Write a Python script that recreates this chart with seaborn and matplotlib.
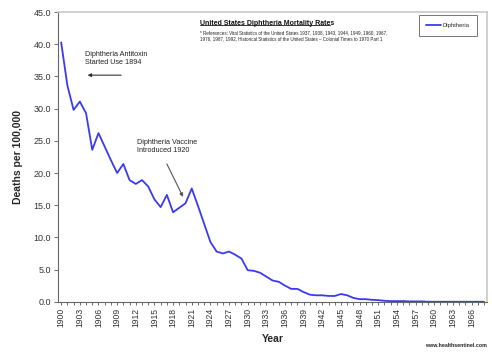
import matplotlib
matplotlib.use("Agg")
import numpy as np
import pandas as pd
import matplotlib.pyplot as plt
import seaborn as sns

years = list(range(1900, 1969))
deaths = [40.3, 33.6, 29.8, 31.1, 29.3, 23.6, 26.2, 24.1, 22.0, 20.0,
          21.4, 18.9, 18.3, 18.9, 17.9, 15.9, 14.7, 16.6, 13.9, 14.6,
          15.3, 17.6, 14.9, 12.1, 9.3, 7.8, 7.5, 7.8, 7.3, 6.7,
          4.9, 4.8, 4.5, 3.9, 3.3, 3.1, 2.5, 2.0, 2.0, 1.5,
          1.1, 1.0, 1.0, 0.9, 0.9, 1.2, 1.0, 0.6, 0.4, 0.4,
          0.3, 0.25, 0.15, 0.1, 0.1, 0.1, 0.05, 0.05, 0.05, 0.0,
          0.0, 0.0, 0.0, 0.0, 0.0, 0.0, 0.0, 0.0, 0.0]
year_labels = years[::3]
y_ticks = [0, 5, 10, 15, 20, 25, 30, 35, 40, 45]

df = pd.DataFrame({"Year": years, "Diphtheria": deaths})

sns.set_style("white")
plt.rcParams["font.family"] = ["Liberation Sans", "DejaVu Sans"]

fig = plt.figure(figsize=(4.92, 3.55), dpi=100)
ax = fig.add_axes([0.118, 0.150, 0.872, 0.816])

sns.lineplot(data=df, x="Year", y="Diphtheria", color="#3a3af0", linewidth=1.3,
             ax=ax, label="Diphtheria")

ax.set_xlim(1899.5, 1968.5)
ax.set_ylim(0, 45)
ax.set_yticks(y_ticks)
ax.set_yticklabels([f"{v:.1f}" for v in y_ticks], fontsize=6.5, color="#333333")
ax.set_xticks(years, minor=True)
ax.set_xticks(year_labels)
ax.set_xticklabels([str(y) for y in year_labels], rotation=90, fontsize=6.2, color="#333333")
ax.tick_params(axis="x", which="both", direction="out", length=2.5, width=0.6,
               color="#555555", bottom=True, pad=2)
ax.tick_params(axis="y", direction="out", length=3, width=0.6, color="#555555",
               left=True, pad=2)

for side in ["top", "right"]:
    ax.spines[side].set_color("#c8c8c8")
    ax.spines[side].set_linewidth(1.2)
for side in ["left", "bottom"]:
    ax.spines[side].set_color("#666666")
    ax.spines[side].set_linewidth(0.8)

ax.set_xlabel("Year", fontsize=7.5, fontweight="bold", labelpad=5)
ax.set_ylabel("Deaths per 100,000", fontsize=7.5, fontweight="bold", labelpad=8)

leg = ax.legend(loc="upper right", bbox_to_anchor=(0.977, 0.989), fontsize=4.2,
                frameon=True, fancybox=False, handlelength=2.6, handletextpad=0.2,
                borderpad=1.3, borderaxespad=0.0)
leg.get_frame().set_edgecolor("#555555")
leg.get_frame().set_linewidth(0.7)

fig.text(0.407, 0.93, "United States Diphtheria Mortality Rates", fontsize=5.0,
         fontweight="bold", color="#111111")
fig.lines.append(plt.Line2D([0.407, 0.671], [0.929, 0.929], transform=fig.transFigure,
                            color="#111111", linewidth=0.6))
fig.text(0.407, 0.885,
         "* References: Vital Statistics of the United States 1937, 1938, 1943, 1944, 1949, 1960, 1967,\n"
         "1976, 1987, 1992, Historical Statistics of the United States \u2013 Colonial Times to 1970 Part 1",
         fontsize=3.25, color="#222222", linespacing=1.25, va="bottom")

ax.annotate("", xy=(1903.8, 35.2), xytext=(1910.1, 35.2),
            arrowprops=dict(arrowstyle="-|>", color="#333333", lw=0.8, mutation_scale=5))
ax.text(1903.8, 37.0, "Diphtheria Antitoxin\nStarted Use 1894", fontsize=5.2,
        color="#222222", linespacing=1.2)
ax.annotate("", xy=(1919.8, 15.9), xytext=(1916.8, 21.8),
            arrowprops=dict(arrowstyle="-|>", color="#555555", lw=0.8, mutation_scale=5))
ax.text(1912.2, 23.2, "Diphtheria Vaccine\nIntroduced 1920", fontsize=5.2,
        color="#222222", linespacing=1.2)

fig.text(0.99, 0.022, "www.healthsentinel.com", fontsize=3.8, fontweight="bold",
         ha="right", color="#222222")

fig.savefig("out.png", dpi=100)
